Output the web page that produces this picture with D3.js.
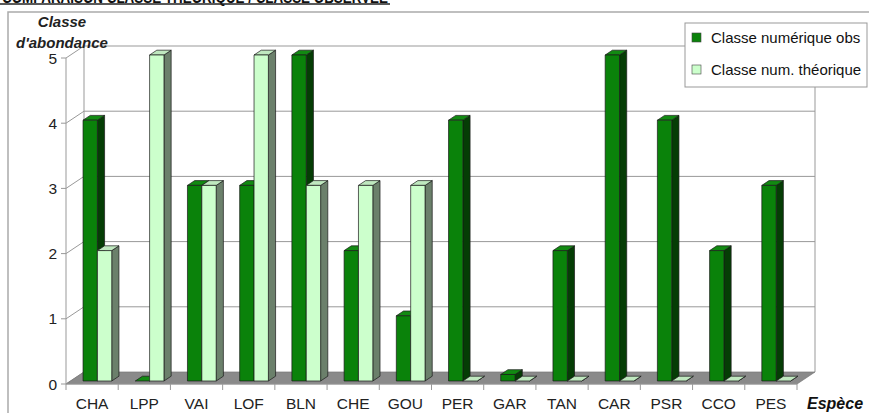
<!DOCTYPE html>
<html>
<head>
<meta charset="utf-8">
<script src="https://d3js.org/d3.v7.min.js"></script>
<style>
  body { margin: 0; background: white; }
  svg { display: block; font-family: Arial, "Liberation Sans", sans-serif; }
</style>
</head>
<body>
<svg id="chart" width="869" height="413"></svg>
<script>
// data
const species = ["CHA","LPP","VAI","LOF","BLN","CHE","GOU","PER","GAR","TAN","CAR","PSR","CCO","PES"];
const obsValues = [4, 0, 3, 3, 5, 2, 1, 4, 0.1, 2, 5, 4, 2, 3];
const theoValues = [2, 5, 3, 5, 3, 3, 3, 0, 0, 0, 0, 0, 0, 0];
const yTicks = [0, 1, 2, 3, 4, 5];
const seriesNames = ["Classe numérique obs", "Classe num. théorique"];

const svg = d3.select("svg#chart");

// front plane scales, depth pushes things up-right
const x = d3.scaleBand().domain(species).range([66, 797]);
const y = d3.scaleLinear().domain([0, 5]).range([384, 58]);
const DX = 18, DY = -12;
const pt = (xf, v, d) => [xf + d * DX, y(v) + d * DY];
const poly = pts => pts.map(p => p.join(",")).join(" ");

// cropped title at the very top (only its lower edge shows)
svg.append("text").attr("x", 2).attr("y", 3)
   .attr("font-size", 16).attr("font-weight", "bold").attr("fill", "#111")
   .attr("textLength", 386).attr("lengthAdjust", "spacingAndGlyphs")
   .text("COMPARAISON CLASSE THÉORIQUE / CLASSE OBSERVÉE");
svg.append("line").attr("x1", 0).attr("x2", 390).attr("y1", 4).attr("y2", 4)
   .attr("stroke", "#222").attr("stroke-width", 1.5);

// outer frame
svg.append("path").attr("d", "M8,413 V12 H869")
   .attr("fill", "none").attr("stroke", "#aaa").attr("stroke-width", 1.5);

// back wall gridlines
const grid = svg.append("g");
yTicks.forEach(t => {
  const a = pt(66, t, 1), b = pt(797, t, 1);
  if (t > 0) {
    grid.append("line").attr("x1", a[0]).attr("y1", a[1]).attr("x2", b[0]).attr("y2", b[1])
        .attr("stroke", "#999").attr("stroke-width", 1);
  }
  // side wall diagonal
  grid.append("line").attr("x1", 66).attr("y1", y(t)).attr("x2", a[0]).attr("y2", a[1])
      .attr("stroke", "#999").attr("stroke-width", 1);
});
// wall edges
const bl0 = pt(66, 0, 1), bl5 = pt(66, 5, 1), br0 = pt(797, 0, 1), br5 = pt(797, 5, 1);
grid.append("line").attr("x1", bl0[0]).attr("y1", bl0[1]).attr("x2", bl5[0]).attr("y2", bl5[1])
    .attr("stroke", "#999");
grid.append("line").attr("x1", br0[0]).attr("y1", br0[1]).attr("x2", br5[0]).attr("y2", br5[1])
    .attr("stroke", "#999");

// floor
svg.append("polygon")
   .attr("points", poly([pt(66, 0, 0), pt(797, 0, 0), pt(797, 0, 1), pt(66, 0, 1)]))
   .attr("fill", "#8a8a8a").attr("stroke", "#777").attr("stroke-width", 0.7);

// y axis
svg.append("line").attr("x1", 66).attr("x2", 66).attr("y1", y(0)).attr("y2", y(5))
   .attr("stroke", "#999");
yTicks.forEach(t => {
  svg.append("line").attr("x1", 61).attr("x2", 66).attr("y1", y(t)).attr("y2", y(t))
     .attr("stroke", "#999");
  svg.append("text").attr("x", 57).attr("y", y(t) + 5.5).attr("text-anchor", "end")
     .attr("font-size", 15.5).attr("fill", "#222").text(t);
});

// x axis ticks + labels
svg.append("line").attr("x1", 66).attr("x2", 797).attr("y1", y(0)).attr("y2", y(0))
   .attr("stroke", "#999");
species.forEach((s, i) => {
  const xs = x(s);
  svg.append("line").attr("x1", xs).attr("x2", xs).attr("y1", y(0)).attr("y2", y(0) + 6)
     .attr("stroke", "#999");
  svg.append("text").attr("x", xs + x.bandwidth() / 2).attr("y", 409).attr("text-anchor", "middle")
     .attr("font-size", 15.5).attr("fill", "#222").text(s);
});
svg.append("line").attr("x1", 797).attr("x2", 797).attr("y1", y(0)).attr("y2", y(0) + 6)
   .attr("stroke", "#999");

// bars
const D0 = 0.25, D1 = 0.65;
const series = [
  { values: obsValues, off: 0.24, front: "#0a820a", side: "#053d05", top: "#128a12" },
  { values: theoValues, off: 0.515, front: "#ccffcc", side: "#6b806b", top: "#bfe8bf" }
];
const bw = x.bandwidth() * 0.275;
const bars = svg.append("g");
species.forEach((s, i) => {
  series.forEach(se => {
    const v = se.values[i];
    const x0 = x(s) + x.bandwidth() * se.off, x1 = x0 + bw;
    const g = bars.append("g").attr("stroke", "#1a1a1a").attr("stroke-width", 0.7)
                  .attr("stroke-linejoin", "round");
    // side
    g.append("polygon").attr("fill", se.side)
     .attr("points", poly([pt(x1, 0, D0), pt(x1, 0, D1), pt(x1, v, D1), pt(x1, v, D0)]));
    // top
    g.append("polygon").attr("fill", se.top)
     .attr("points", poly([pt(x0, v, D0), pt(x1, v, D0), pt(x1, v, D1), pt(x0, v, D1)]));
    // front
    if (v > 0) {
      g.append("polygon").attr("fill", se.front)
       .attr("points", poly([pt(x0, 0, D0), pt(x1, 0, D0), pt(x1, v, D0), pt(x0, v, D0)]));
    }
  });
});

// axis titles
svg.append("text").attr("x", 62).attr("y", 27).attr("text-anchor", "middle")
   .attr("font-size", 15).attr("font-weight", "bold").attr("font-style", "italic")
   .attr("fill", "#222").text("Classe");
svg.append("text").attr("x", 62).attr("y", 48).attr("text-anchor", "middle")
   .attr("font-size", 15).attr("font-weight", "bold").attr("font-style", "italic")
   .attr("fill", "#222").text("d'abondance");
svg.append("text").attr("x", 807).attr("y", 409)
   .attr("font-size", 16).attr("font-weight", "bold").attr("font-style", "italic")
   .attr("fill", "#111").text("Espèce");

// legend
const lg = svg.append("g");
lg.append("rect").attr("x", 685).attr("y", 23).attr("width", 182).attr("height", 64)
  .attr("fill", "white").attr("stroke", "#999");
seriesNames.forEach((n, i) => {
  const yy = 38 + i * 32;
  lg.append("rect").attr("x", 692).attr("y", yy - 5).attr("width", 9).attr("height", 9)
    .attr("fill", series[i].front).attr("stroke", "#444").attr("stroke-width", 0.6);
  lg.append("text").attr("x", 711).attr("y", yy + 5).attr("font-size", 15)
    .attr("fill", "#111").text(n);
});
</script>
</body>
</html>
